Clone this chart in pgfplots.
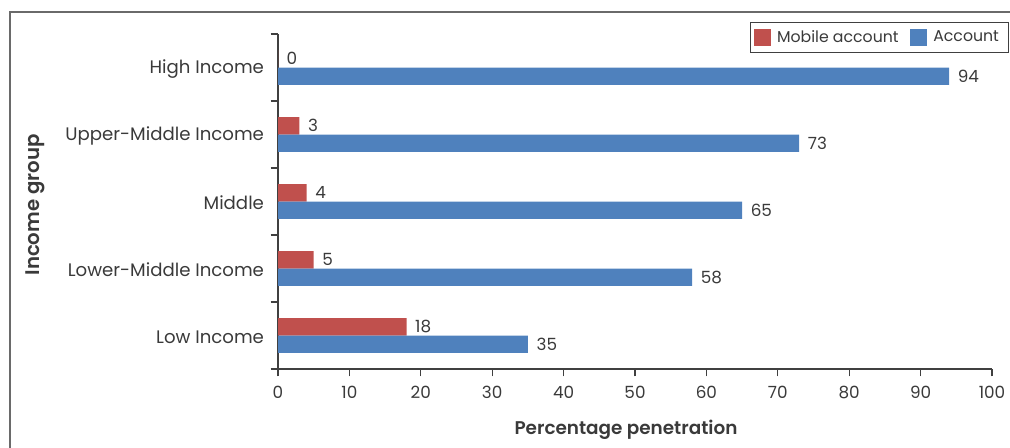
\documentclass[border=0pt]{standalone}
\usepackage{pgfplots}
\pgfplotsset{compat=1.18}
\usepackage{fontspec}
\setmainfont{Poppins}[BoldFont={Poppins SemiBold}]

\definecolor{mobred}{HTML}{C0504D}
\definecolor{accblue}{HTML}{4F81BD}
\definecolor{txt}{HTML}{3A3A3A}
\definecolor{axisgray}{HTML}{404040}
\definecolor{framegray}{HTML}{6A6A6A}

\pgfplotsset{
  square legend/.style={
    legend image code/.code={\fill[##1] (0pt,-6.2pt) rectangle (13pt,6.2pt);}
  }
}

\begin{document}
\begin{tikzpicture}
\useasboundingbox (0,0) rectangle (757.5pt,335.25pt);
% outer frame
\draw[framegray, line width=1pt] (7.5pt,-5pt) -- (7.5pt,326.25pt) -- (770pt,326.25pt);

\begin{axis}[
  at={(208.5pt,58.5pt)}, anchor=south west,
  scale only axis, width=535.5pt, height=251.25pt,
  xmin=0, xmax=100, ymin=-0.5, ymax=4.5,
  xbar, bar width=0.26,
  axis x line*=bottom, axis y line*=left,
  axis line style={axisgray, line width=0.8pt},
  tick align=outside, major tick length=5.5pt,
  tick style={axisgray, line width=0.8pt},
  xtick={0,10,...,100},
  ytick={-0.5,0.5,...,4.5}, yticklabels={},
  extra y ticks={0,1,2,3,4},
  extra y tick labels={Low Income, Lower-Middle Income, Middle, Upper-Middle Income, High Income},
  extra y tick style={tick style={draw=none}},
  yticklabel style={font=\fontsize{13.6}{16}\selectfont, text=txt, xshift=-1.5pt, yshift=-1pt},
  xticklabel style={font=\fontsize{12.6}{15}\selectfont, text=txt, yshift=-4pt},
  /pgf/number format/assume math mode=true,
  xlabel={\bfseries Percentage penetration},
  ylabel={\bfseries Income group},
  xlabel style={at={(axis description cs:0.4874,-0.182)}, anchor=center, font=\fontsize{13.8}{16}\selectfont, text=txt},
  ylabel style={at={(axis description cs:-0.3403,0.4896)}, anchor=center, rotate=0, font=\fontsize{14.8}{17}\selectfont, text=txt},
  nodes near coords,
  nodes near coords style={font=\fontsize{12.6}{15}\selectfont, text=txt, anchor=west, xshift=3pt},
  legend columns=2,
  legend cell align=left,
  legend style={at={(axis description cs:0.661,1.0358)}, anchor=north west,
    draw=axisgray, line width=0.8pt, font=\fontsize{11.8}{14}\selectfont, text=txt,
    inner xsep=2.4pt, inner ysep=4pt,
    nodes={inner xsep=4.5pt},
    /tikz/every even column/.append style={column sep=4pt}},
]
\addplot[fill=mobred, draw=none, bar shift=0.13, square legend] coordinates {
  (18,0) (5,1) (4,2) (3,3) (0,4)
};
\addlegendentry{Mobile account}
\addplot[fill=accblue, draw=none, bar shift=-0.13, square legend] coordinates {
  (35,0) (58,1) (65,2) (73,3) (94,4)
};
\addlegendentry{Account}
\end{axis}
\end{tikzpicture}
\end{document}
